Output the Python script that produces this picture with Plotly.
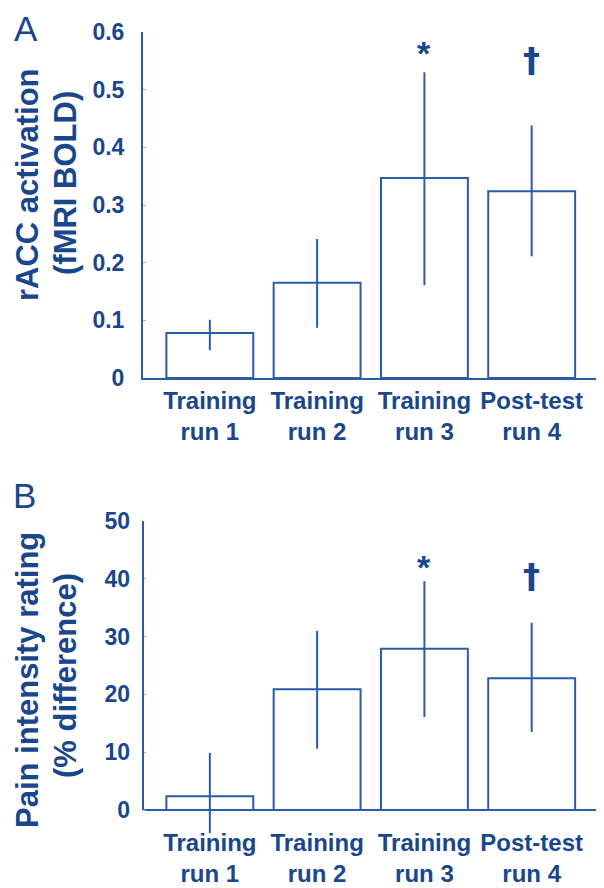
import plotly.graph_objects as go

# ---------------- data ----------------
categories = ["Training run 1", "Training run 2", "Training run 3", "Post-test run 4"]
tick_labels = ["Training<br>run 1", "Training<br>run 2", "Training<br>run 3", "Post-test<br>run 4"]

racc_mean = [0.078, 0.165, 0.347, 0.324]
racc_err_up = [0.023, 0.076, 0.183, 0.114]
racc_err_down = [0.030, 0.078, 0.186, 0.113]

pain_mean = [2.4, 20.9, 27.9, 22.8]
pain_err_up = [7.5, 10.1, 11.7, 9.6]
pain_err_down = [6.4, 10.3, 11.8, 9.3]

racc_ticks = [0, 0.1, 0.2, 0.3, 0.4, 0.5, 0.6]
racc_tick_text = ["0", "0.1", "0.2", "0.3", "0.4", "0.5", "0.6"]
pain_ticks = [0, 10, 20, 30, 40, 50]
pain_tick_text = ["0", "10", "20", "30", "40", "50"]

sig_marks = ["*", "\u2020"]          # for Training run 3 and Post-test run 4
sig_categories = ["Training run 3", "Post-test run 4"]

# ---------------- style ----------------
OFF = 8                      # default page margin of the html body
W, H = 604 - OFF, 888 - OFF
TEXT = "#1a468c"
LINE = "#2b5ca8"
FONT = "Arial, Liberation Sans, sans-serif"

def px_x(x):
    return (x - OFF) / W

def px_y(y):
    return 1 - (y - OFF) / H

x_dom = [px_x(143), 1.0]
x_range = [-0.623, 3.674]

fig = go.Figure()

for mean, up, down, xa, ya in [
    (racc_mean, racc_err_up, racc_err_down, "x", "y"),
    (pain_mean, pain_err_up, pain_err_down, "x2", "y2"),
]:
    fig.add_trace(go.Bar(
        x=categories, y=mean, xaxis=xa, yaxis=ya,
        width=0.81,
        marker=dict(color="white", line=dict(color=LINE, width=2)),
        error_y=dict(type="data", symmetric=False, array=up, arrayminus=down,
                     color=LINE, thickness=2, width=0),
        showlegend=False, hoverinfo="x+y",
    ))

tickfont = dict(family=FONT, size=24, color=TEXT, weight="bold")
ytickfont = dict(family=FONT, size=23, color=TEXT, weight="bold")

fig.update_layout(
    width=W, height=H,
    margin=dict(l=0, r=0, t=0, b=0, pad=0, autoexpand=False),
    paper_bgcolor="white", plot_bgcolor="white",
    bargap=0.19,
    xaxis=dict(domain=x_dom, range=x_range, type="category",
               tickmode="array", tickvals=categories, ticktext=tick_labels,
               tickfont=tickfont, showline=True, linecolor=LINE, linewidth=2,
               ticks="", showgrid=False, zeroline=False, anchor="y", automargin=False),
    yaxis=dict(domain=[px_y(378), px_y(32)], range=[0, 0.6],
               tickmode="array", tickvals=racc_ticks, ticktext=racc_tick_text,
               tickfont=ytickfont, showline=True, linecolor=LINE, linewidth=2,
               ticks="inside", ticklen=3, tickcolor="#9db3d6", tickwidth=1,
               ticklabelstandoff=12, automargin=False,
               showgrid=False, zeroline=False, anchor="x"),
    xaxis2=dict(domain=x_dom, range=x_range, type="category",
                tickmode="array", tickvals=categories, ticktext=tick_labels,
                tickfont=tickfont, showline=False, ticks="", showgrid=False,
                zeroline=False, anchor="free", position=px_y(826), automargin=False),
    yaxis2=dict(domain=[px_y(834.9), px_y(521)], range=[-4.3, 50],
                tickmode="array", tickvals=pain_ticks, ticktext=pain_tick_text,
                tickfont=ytickfont, showline=False,
                ticks="inside", ticklen=3, tickcolor="#9db3d6", tickwidth=1,
                ticklabelstandoff=12, automargin=False,
                showgrid=False, zeroline=True, zerolinecolor=LINE, zerolinewidth=2,
                anchor="x2"),
)

# y-axis line of panel B (only from 0 to 50)
fig.add_shape(type="line", xref="x2 domain", yref="y2", x0=0, x1=0, y0=0, y1=50,
              line=dict(color=LINE, width=2))

# significance marks
sig_fonts = [dict(family=FONT, size=34, color=TEXT, weight="bold"),
             dict(family="DejaVu Sans", size=34, color=TEXT, weight="bold")]
sig_y_a = [0.564, 0.551]
sig_y_b = [42.0, 40.5]
for mark, cat, ya_, yb_, f in zip(sig_marks, sig_categories, sig_y_a, sig_y_b, sig_fonts):
    for xr, yr, yv in [("x", "y", ya_), ("x2", "y2", yb_)]:
        fig.add_annotation(x=cat, y=yv, xref=xr, yref=yr, text=mark, showarrow=False,
                           xanchor="center", yanchor="middle", font=f)

# axis titles
title_font = dict(family=FONT, size=31, color=TEXT, weight="bold")
for txt, x, y in [("rACC activation", 27, 185), ("(fMRI BOLD)", 65, 183),
                  ("Pain intensity rating", 27, 680), ("(% difference)", 65, 676)]:
    fig.add_annotation(x=px_x(x), y=px_y(y), xref="paper", yref="paper", text=txt,
                       textangle=-90, showarrow=False, xanchor="center", yanchor="middle",
                       font=title_font)

# panel letters
for txt, x, y, ya in [("A", 26, 8, "top"), ("B", 24, 495, "middle")]:
    fig.add_annotation(x=px_x(x), y=px_y(y), xref="paper", yref="paper", text=txt,
                       showarrow=False, xanchor="center", yanchor=ya,
                       borderpad=0,
                       font=dict(family=FONT, size=35, color=TEXT))

fig.write_html("out.html")
